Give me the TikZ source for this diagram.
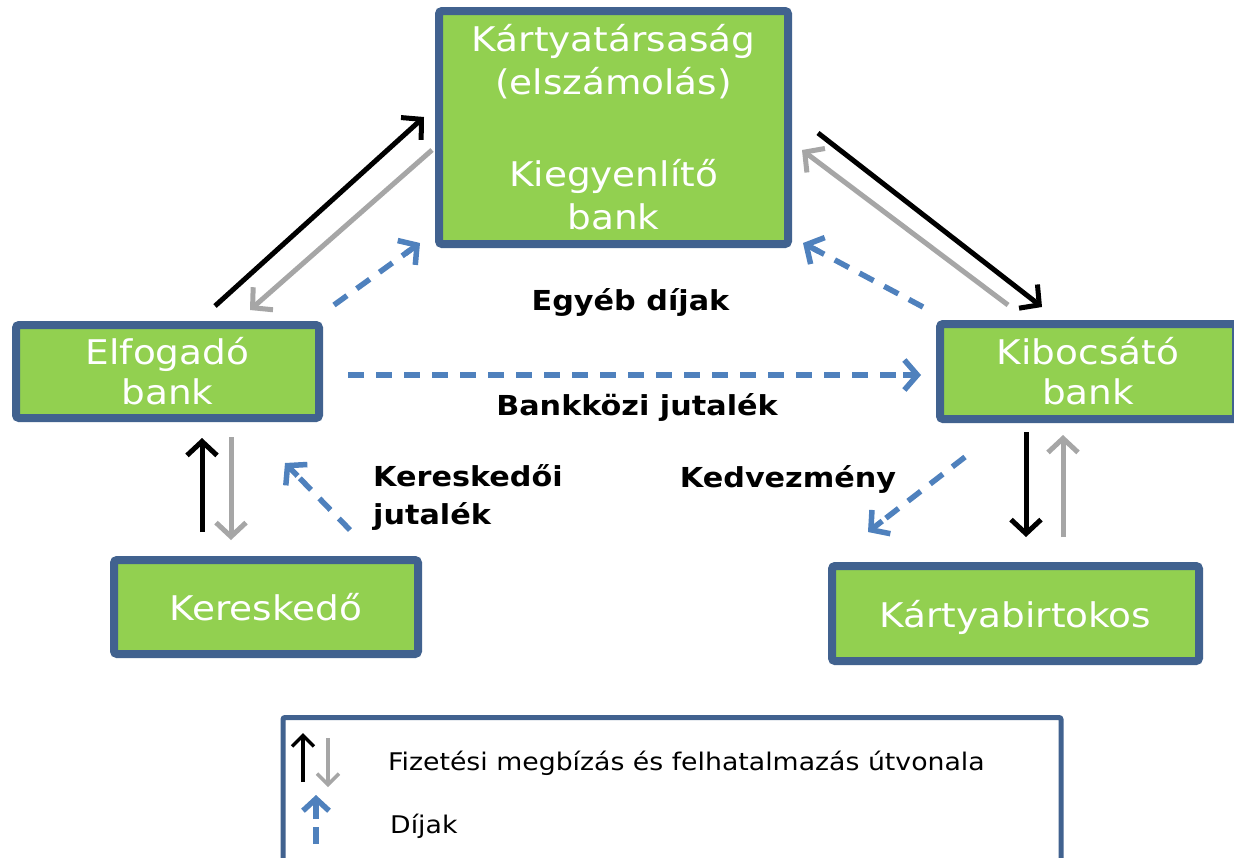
\documentclass[tikz,border=0pt]{standalone}
\usepackage{fontspec}
\setmainfont[FakeStretch=1.1]{DejaVu Sans}
\usetikzlibrary{arrows.meta,calc}
\definecolor{boxgreen}{HTML}{92D050}
\definecolor{boxborder}{HTML}{41628F}
\definecolor{feeblue}{HTML}{4F81BD}
\definecolor{backgray}{HTML}{A6A6A6}
\begin{document}
\begin{tikzpicture}[x=1pt,y=-1pt,
  box/.style={draw=boxborder, line width=8pt, fill=boxgreen, rounded corners=3pt,
    text=white, align=center, inner sep=0pt, font=\fontsize{34}{40}\selectfont},
  pay/.style={line width=5pt, black, -{Straight Barb[length=14pt,width=30pt]}},
  back/.style={line width=5pt, backgray, -{Straight Barb[length=14pt,width=30pt]}},
  fee/.style={line width=5.5pt, feeblue, dash pattern=on 16pt off 12pt, shorten >=12pt},
  feehead/.style={line width=5.5pt, feeblue, solid, -{Straight Barb[length=13pt,width=30pt]}},
  lpay/.style={line width=3.5pt, black, -{Straight Barb[length=11pt,width=22pt]}},
  lback/.style={line width=3.5pt, backgray, -{Straight Barb[length=11pt,width=22pt]}},
  lfee/.style={line width=5.5pt, feeblue, dash pattern=on 17pt off 10pt, shorten >=24pt},
  lfeehead/.style={line width=5.5pt, feeblue, solid, -{Straight Barb[length=12pt,width=26pt]}},
  lbl/.style={font=\bfseries\fontsize{27.5}{37}\selectfont, text=black, inner sep=0pt},
  legtext/.style={font=\fontsize{24.3}{28}\selectfont, text=black, inner sep=0pt, anchor=base west}]
\useasboundingbox (0,0) rectangle (1234,857);
\fill[white] (0,0) rectangle (1234,857);

% boxes
\node[box, minimum width=349pt, minimum height=233pt, font=\fontsize{34}{43}\selectfont] (kt) at (613.5,127.5)
  {Kártyatársaság\\(elszámolás)\\[49pt]Kiegyenlítő\\bank};
\node[box, minimum width=303pt, minimum height=93pt] (elf) at (167.5,371.5) {Elfogadó\\bank};
\node[box, minimum width=296pt, minimum height=95pt] (kib) at (1088,371.5) {Kibocsátó\\bank};
\node[box, minimum width=304pt, minimum height=94pt, text depth=0pt] (ker) at (266,607) {Kereskedő};
\node[box, minimum width=367pt, minimum height=95pt, text depth=0pt] (kbt) at (1015.5,613.5) {Kártyabirtokos};

% legend box
\node[draw=boxborder, line width=5pt, fill=white, rounded corners=2pt, minimum width=778pt, minimum height=150pt, inner sep=0pt] (leg) at (672,792.5) {};

% arrow end points
\coordinate (a1s) at (215,306); \coordinate (a1e) at (424,117);
\coordinate (a2s) at (432,150); \coordinate (a2e) at (250,310);
\coordinate (a3s) at (334,305); \coordinate (a3e) at (420,243);
\coordinate (b1s) at (818,133); \coordinate (b1e) at (1042,307);
\coordinate (b2s) at (1008,305); \coordinate (b2e) at (802,150);
\coordinate (b3s) at (923,307); \coordinate (b3e) at (803,243);
\coordinate (hs) at (348,375); \coordinate (he) at (921,375);
\coordinate (c1s) at (202,532); \coordinate (c1e) at (202,438);
\coordinate (c2s) at (231,437); \coordinate (c2e) at (231,540);
\coordinate (c3s) at (350,530); \coordinate (c3e) at (285,463);
\coordinate (d1s) at (1026,432); \coordinate (d1e) at (1026,537);
\coordinate (d2s) at (1063,537); \coordinate (d2e) at (1063,435);
\coordinate (d3s) at (965,457); \coordinate (d3e) at (868,532);

\draw[pay] (a1s) -- (a1e);
\draw[back] (a2s) -- (a2e);
\draw[fee] (a3s) -- (a3e);
\draw[feehead] ($(a3e)!18pt!(a3s)$) -- (a3e);
\draw[pay] (b1s) -- (b1e);
\draw[back] (b2s) -- (b2e);
\draw[fee] (b3s) -- (b3e);
\draw[feehead] ($(b3e)!18pt!(b3s)$) -- (b3e);
\draw[fee] (hs) -- (he);
\draw[feehead] ($(he)!18pt!(hs)$) -- (he);
\draw[pay] (c1s) -- (c1e);
\draw[back] (c2s) -- (c2e);
\draw[fee] (c3s) -- (c3e);
\draw[feehead] ($(c3e)!18pt!(c3s)$) -- (c3e);
\draw[pay] (d1s) -- (d1e);
\draw[back] (d2s) -- (d2e);
\draw[fee] (d3s) -- (d3e);
\draw[feehead] ($(d3e)!18pt!(d3s)$) -- (d3e);

% labels
\node[lbl, anchor=base] (egy) at (630.5,310) {Egyéb díjak};
\node[lbl, anchor=base] (bkj) at (637,415) {Bankközi jutalék};
\node[lbl, anchor=base west] (kj1) at (373,486) {Kereskedői};
\node[lbl, anchor=base west] (kj2) at (373,524) {jutalék};
\node[lbl, anchor=base] (kedv) at (788,487) {Kedvezmény};

% legend content
\coordinate (l1s) at (303,782); \coordinate (l1e) at (303,733);
\coordinate (l2s) at (328,738); \coordinate (l2e) at (328,787);
\coordinate (l3s) at (316,844); \coordinate (l3e) at (316,795);
\draw[lpay] (l1s) -- (l1e);
\draw[lback] (l2s) -- (l2e);
\draw[lfee] (l3s) -- (l3e);
\draw[lfeehead] ($(l3e)!24pt!(l3s)$) -- (l3e);
\node[legtext] (lt1) at (388,770) {Fizetési megbízás és felhatalmazás útvonala};
\node[legtext] (lt2) at (390,833) {Díjak};
\end{tikzpicture}
\end{document}
